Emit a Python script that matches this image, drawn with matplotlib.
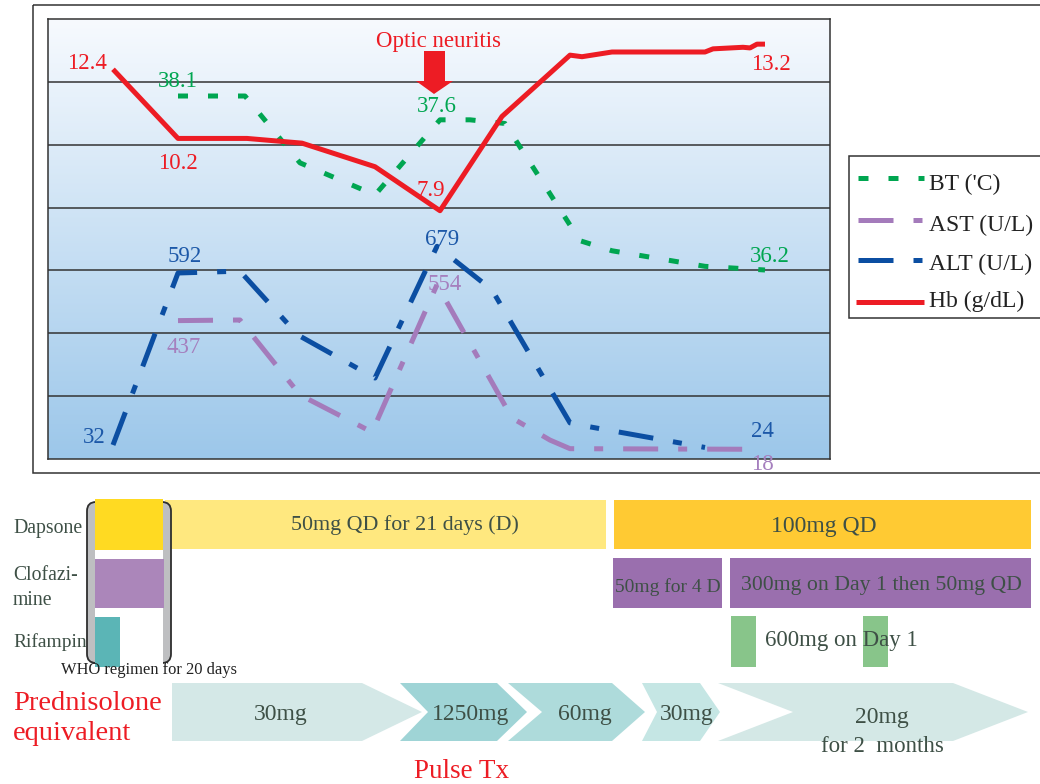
import numpy as np
import matplotlib
matplotlib.use('Agg')
import matplotlib.pyplot as plt
from matplotlib.patches import Polygon, Rectangle, FancyBboxPatch
from matplotlib.colors import LinearSegmentedColormap

plt.rcParams['font.family'] = ['Liberation Serif', 'DejaVu Serif']

# ---------------- data ----------------
# shared (unlabelled) time axis positions
t_hb = [113, 178, 247, 302, 375, 440, 502, 570, 582, 612, 705, 713, 743, 750, 757, 765]
hb = [12.4, 10.2, 10.2, 10.05, 9.3, 7.9, 10.9, 12.85, 12.8, 12.95, 12.95, 13.05, 13.1, 13.08, 13.2, 13.2]

t_bt = [178, 245, 300, 375, 440, 470, 505, 580, 612, 705, 765]
bt = [38.1, 38.1, 37.37, 37.02, 37.84, 37.84, 37.8, 36.52, 36.41, 36.24, 36.2]

t_alt = [113, 178, 240, 298, 375, 437, 492, 570, 590, 705]
alt = [32, 592, 598, 390, 250, 679, 537, 104, 91, 24]

t_ast = [178, 240, 300, 372, 437, 512, 550, 570, 758]
ast = [437, 439, 195, 74, 554, 120, 48, 20, 18]

# labelled points: (index, text)
hb_labels = [(0, '12.4'), (1, '10.2'), (5, '7.9'), (15, '13.2')]
bt_labels = [(0, '38.1'), (4, '37.6'), (10, '36.2')]
alt_labels = [(0, '32'), (1, '592'), (5, '679'), (9, '24')]
ast_labels = [(0, '437'), (4, '554'), (8, '18')]

legend_names = ["BT ('C)", 'AST (U/L)', 'ALT (U/L)', 'Hb (g/dL)']
event_text = 'Optic neuritis'
event_t = 434

# drug regimen timeline (start, end, text)
drug_rows = ['Dapsone', 'Clofazi-\nmine', 'Rifampin']
dapsone_spans = [(95, 163, ''), (165, 606, '50mg QD for 21 days (D)'), (614, 1031, '100mg QD')]
clofaz_spans = [(95, 164, ''), (613, 722, '50mg for 4 D'), (730, 1031, '300mg on Day 1 then 50mg QD')]
rifamp_spans = [(95, 120, ''), (731, 756, ''), (863, 888, '')]
rifamp_note = '600mg on Day 1'
who_text = 'WHO regimen for 20 days'

pred_title = 'Prednisolone\nequivalent'
pred_start = [172, 400, 508, 642, 718]
pred_end = [422, 527, 645, 720, 1028]
pred_dose = ['30mg', '1250mg', '60mg', '30mg', '20mg']
pred_note = 'for 2  months'
pulse_text = 'Pulse Tx'

# ---------------- styles / layout ----------------
RED = '#ED1C24'
GREEN = '#00A651'
PURPLE = '#A47BBB'
PURPLE_T = '#A57FBE'
BLUE = '#0B4EA2'
BLUE_T = '#1C58A8'
TXT = '#3E5046'
LW = 3.6
BT_DASH = (2, 4)
LE_DASH = (7, 4, 1.8, 4)
NUMFS = 16.5

fig = plt.figure(figsize=(10.4, 7.84), dpi=100)
W, H = 1040, 784
L, R, T, B = 48, 830, 19, 459
rect = [L / W, 1 - B / H, (R - L) / W, (B - T) / H]

ax = fig.add_axes(rect)
ax.set_xlim(L, R)
ax.set_ylim(0, 14)
cmap = LinearSegmentedColormap.from_list('bg', ['#F7FAFE', '#9CC7EA'])
ax.imshow(np.linspace(0, 1, 256).reshape(-1, 1), cmap=cmap, extent=[L, R, 0, 14],
          aspect='auto', origin='upper', zorder=0)
for v in range(2, 14, 2):
    ax.axhline(v, color='#333333', lw=1.1, zorder=1)
ax.set_xticks([])
ax.set_yticks([])
for s in ax.spines.values():
    s.set_color('#333333')
    s.set_linewidth(1.1)

ax_bt = ax.twinx()
ax_bt.set_ylim(34.136, 38.941)
ax_bt.axis('off')
ax_le = ax.twinx()
ax_le.set_ylim(-13.6, 1419)
ax_le.axis('off')
ax_hb = ax.twinx()
ax_hb.set_ylim(0, 14)
ax_hb.axis('off')

ax_bt.plot(t_bt, bt, color=GREEN, lw=LW, dashes=BT_DASH, dash_capstyle='butt', solid_joinstyle='miter')
ax_le.plot(t_ast, ast, color=PURPLE, lw=LW, dashes=LE_DASH, dash_capstyle='butt')
ax_le.plot(t_alt, alt, color=BLUE, lw=LW, dashes=LE_DASH, dash_capstyle='butt')
ax_hb.plot(t_hb, hb, color=RED, lw=LW, solid_capstyle='butt')


def lab(a, xs, ys, items, offs, color):
    for (i, txt), (dx, dy) in zip(items, offs):
        a.annotate(txt, (xs[i], ys[i]), xytext=(dx, dy), textcoords='offset pixels',
                   ha='center', va='baseline', fontsize=NUMFS, color=color,
                   annotation_clip=False, zorder=10)


lab(ax_hb, t_hb, hb, hb_labels, [(-26, 0), (0, -31), (-9, 15), (6, -26)], RED)
lab(ax_bt, t_bt, bt, bt_labels, [(0, 9), (-3, 8), (5, 8)], GREEN)
lab(ax_le, t_alt, alt, alt_labels, [(-19, 2), (7, 11), (5, 1), (57, 10)], BLUE_T)
lab(ax_le, t_ast, ast, ast_labels, [(6, -32), (8, -5), (4, -21)], PURPLE_T)

# ---------------- overlay (pixel coords) ----------------
ov = fig.add_axes([0, 0, 1, 1])
ov.set_xlim(0, W)
ov.set_ylim(H, 0)
ov.axis('off')

ov.add_patch(Rectangle((33, 5), 1200, 468, fill=False, ec='#333333', lw=1.1))

# event arrow + text
ov.text(438, 47, event_text, ha='center', va='baseline', fontsize=NUMFS, color=RED)
ov.add_patch(Polygon([(event_t - 10, 51), (event_t + 11, 51), (event_t + 11, 81), (event_t + 19, 81),
                      (event_t, 94), (event_t - 18, 81), (event_t - 10, 81)], closed=True,
                     fc=RED, ec='none', zorder=5))

# legend
ov.add_patch(Rectangle((849, 156), 300, 162, fc='white', ec='#333333', lw=1.1))
leg_y = [178, 220, 260, 302]
leg_base = [190, 231, 270, 307]
leg_style = [(GREEN, BT_DASH), (PURPLE, LE_DASH), (BLUE, LE_DASH), (RED, None)]
for name, y, yb, (c, d) in zip(legend_names, leg_y, leg_base, leg_style):
    if d is None:
        ov.plot([856, 924], [y, y], color=c, lw=LW, solid_capstyle='butt')
    else:
        ov.plot([858, 924], [y, y], color=c, lw=LW, dashes=d, dash_capstyle='butt')
    ov.text(929, yb, name, ha='left', va='baseline', fontsize=17, color='#222222')

# ---------------- drug timeline ----------------
row_y = [(500, 549), (558, 608), (616, 667)]
who_y = [(499, 550), (559, 608), (617, 667)]
# long dapsone bar first (behind bracket)
s, e, txt = dapsone_spans[1]
ov.add_patch(Rectangle((s, row_y[0][0]), e - s, row_y[0][1] - row_y[0][0], fc='#FFE87F', ec='none', zorder=1))
# bracket
ov.add_patch(FancyBboxPatch((87, 502), 84, 161, boxstyle='round,pad=0,rounding_size=9',
                            fc='#BEBFC1', ec='#2E2E2E', lw=1.3, zorder=2))
ov.add_patch(Rectangle((95, 500), 68, 166, fc='white', ec='none', zorder=2.5))

span_cols = [['#FFDA22', '#FFE87F', '#FFCA33'],
             ['#AB86BA', '#9A6FAE', '#9A6FAE'],
             ['#5BB5B6', '#88C58A', '#88C58A']]
for r, spans in enumerate([dapsone_spans, clofaz_spans, rifamp_spans]):
    for k, (s, e, txt) in enumerate(spans):
        if r == 0 and k == 1:
            continue
        y0, y1 = who_y[r] if k == 0 else row_y[r]
        ov.add_patch(Rectangle((s, y0), e - s, y1 - y0, fc=span_cols[r][k], ec='none', zorder=3))

bar_text_pos = {(0, 1): (405, 530, 15.8), (0, 2): (824, 532, 17),
                (1, 1): (668, 592, 14), (1, 2): (881, 590, 15.7)}
for (r, k), (x, y, fs) in bar_text_pos.items():
    txt = [dapsone_spans, clofaz_spans][r][k][2]
    ov.text(x, y, txt, ha='center', va='baseline', fontsize=fs, color=TXT, zorder=6)
ov.text(765, 646, rifamp_note, ha='left', va='baseline', fontsize=16.5, color=TXT, zorder=6)

ov.text(13, 533, drug_rows[0], ha='left', va='baseline', fontsize=14.2, color=TXT)
ov.text(13, 580, drug_rows[1].split('\n')[0], ha='left', va='baseline', fontsize=14.2, color=TXT)
ov.text(13, 605, drug_rows[1].split('\n')[1], ha='left', va='baseline', fontsize=14.2, color=TXT)
ov.text(13, 647, drug_rows[2], ha='left', va='baseline', fontsize=14, color=TXT)
ov.text(61, 674, who_text, ha='left', va='baseline', fontsize=11.9, color='#222222', zorder=7)

# prednisolone chevrons
notch = [0, 28, 34, 15, 75]
tipd = [60, 30, 33, 20, 75]
ch_cols = ['#D4E8E7', '#9FD4D6', '#AEDBDB', '#C5E6E4', '#D4E8E6']
top, bot, mid = 683, 741, 712
for s, e, n, d, c in zip(pred_start, pred_end, notch, tipd, ch_cols):
    pts = [(s, top), (e - d, top), (e, mid), (e - d, bot), (s, bot), (s + n, mid)]
    ov.add_patch(Polygon(pts, closed=True, fc=c, ec='none', zorder=1))
dose_pos = [(281, 720), (471, 720), (585, 720), (687, 720), (882, 723)]
for (x, y), txt in zip(dose_pos, pred_dose):
    ov.text(x, y, txt, ha='center', va='baseline', fontsize=17, color=TXT, zorder=6)
ov.text(882, 752, pred_note, ha='center', va='baseline', fontsize=16.5, color=TXT, zorder=6)

p1, p2 = pred_title.split('\n')
ov.text(13, 710, p1, ha='left', va='baseline', fontsize=20.5, color=RED)
ov.text(13, 740, p2, ha='left', va='baseline', fontsize=20.5, color=RED)
ov.text(462, 778, pulse_text, ha='center', va='baseline', fontsize=19.5, color=RED)

fig.savefig('out.png', dpi=100)
